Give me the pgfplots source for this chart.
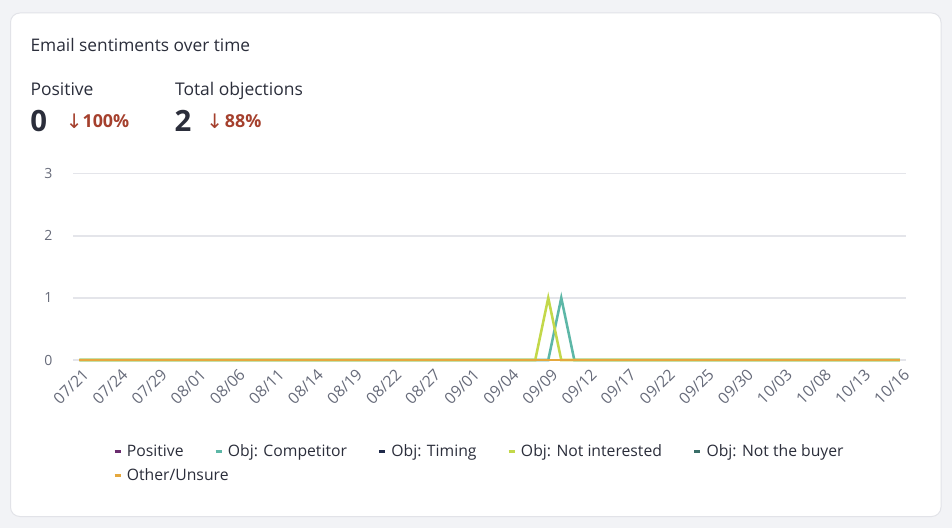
\documentclass[border=0pt]{standalone}
\usepackage{fontspec}
\setmainfont{Open Sans}
\newfontfamily\arrowfont{DejaVu Sans}
\usepackage{pgfplots}
\usepackage{pgfplotstable}
\pgfplotsset{compat=1.18}

\definecolor{pagebg}{HTML}{F2F3F6}
\definecolor{cardborder}{HTML}{E2E3E8}
\definecolor{txt}{HTML}{2B2E3B}
\definecolor{ticktxt}{HTML}{676B7A}
\definecolor{gridc}{HTML}{E4E5EA}
\definecolor{downred}{HTML}{A5402D}
\definecolor{cPos}{HTML}{6A2C6E}
\definecolor{cComp}{HTML}{5DB7A7}
\definecolor{cTim}{HTML}{1F2A4A}
\definecolor{cNI}{HTML}{C3D84A}
\definecolor{cNB}{HTML}{3A6E68}
\definecolor{cOth}{HTML}{E5A83E}

\newlength\px \setlength\px{0.75pt}

\pgfplotstableread{
x pos comp tim ni nb oth
0 0 0 0 0 0 0
1 0 0 0 0 0 0
2 0 0 0 0 0 0
3 0 0 0 0 0 0
4 0 0 0 0 0 0
5 0 0 0 0 0 0
6 0 0 0 0 0 0
7 0 0 0 0 0 0
8 0 0 0 0 0 0
9 0 0 0 0 0 0
10 0 0 0 0 0 0
11 0 0 0 0 0 0
12 0 0 0 0 0 0
13 0 0 0 0 0 0
14 0 0 0 0 0 0
15 0 0 0 0 0 0
16 0 0 0 0 0 0
17 0 0 0 0 0 0
18 0 0 0 0 0 0
19 0 0 0 0 0 0
20 0 0 0 0 0 0
21 0 0 0 0 0 0
22 0 0 0 0 0 0
23 0 0 0 0 0 0
24 0 0 0 0 0 0
25 0 0 0 0 0 0
26 0 0 0 0 0 0
27 0 0 0 0 0 0
28 0 0 0 0 0 0
29 0 0 0 0 0 0
30 0 0 0 0 0 0
31 0 0 0 0 0 0
32 0 0 0 0 0 0
33 0 0 0 0 0 0
34 0 0 0 0 0 0
35 0 0 0 0 0 0
36 0 0 0 1 0 0
37 0 1 0 0 0 0
38 0 0 0 0 0 0
39 0 0 0 0 0 0
40 0 0 0 0 0 0
41 0 0 0 0 0 0
42 0 0 0 0 0 0
43 0 0 0 0 0 0
44 0 0 0 0 0 0
45 0 0 0 0 0 0
46 0 0 0 0 0 0
47 0 0 0 0 0 0
48 0 0 0 0 0 0
49 0 0 0 0 0 0
50 0 0 0 0 0 0
51 0 0 0 0 0 0
52 0 0 0 0 0 0
53 0 0 0 0 0 0
54 0 0 0 0 0 0
55 0 0 0 0 0 0
56 0 0 0 0 0 0
57 0 0 0 0 0 0
58 0 0 0 0 0 0
59 0 0 0 0 0 0
60 0 0 0 0 0 0
61 0 0 0 0 0 0
62 0 0 0 0 0 0
63 0 0 0 0 0 0
}\sent

\begin{document}
\begin{tikzpicture}
\useasboundingbox (0,0) rectangle (714pt,-396pt);
\fill[pagebg] (0,0) rectangle (714pt,-396pt);
\begin{scope}[x=0.75pt,y=-0.75pt]
\filldraw[fill=white, draw=cardborder, line width=0.75pt, rounded corners=7pt] (10.5,13) rectangle (941,516.5);
\begin{scope}[every node/.style={anchor=base west, inner sep=0pt, text=txt}]
\node[font=\fontsize{13pt}{15pt}\selectfont] at (30.3,51) {Email sentiments over time};
\node[font=\fontsize{13.1pt}{15pt}\selectfont] at (30.3,95) {Positive};
\node[font=\fontsize{13.1pt}{15pt}\selectfont] at (174.8,95) {Total objections};
\node[font=\fontsize{22pt}{24pt}\selectfont\bfseries] at (30,131) {0};
\node[font=\arrowfont\fontsize{15pt}{17pt}\selectfont, text=downred] at (65.5,128.3) {↓};
\node[font=\fontsize{13.4pt}{15pt}\selectfont\bfseries, text=downred] at (82.3,127.3) {100\%};
\node[font=\fontsize{22pt}{24pt}\selectfont\bfseries] at (174.3,131) {2};
\node[font=\arrowfont\fontsize{15pt}{17pt}\selectfont, text=downred] at (206.1,128.3) {↓};
\node[font=\fontsize{13.4pt}{15pt}\selectfont\bfseries, text=downred] at (224.7,127.3) {88\%};
\end{scope}
\end{scope}
\begin{axis}[
  at={(54.975pt,-270pt)}, anchor=south west,
  scale only axis, width=624.3pt, height=139.725pt,
  xmin=-0.46, xmax=63.44, ymin=0, ymax=3,
  clip=false,
  axis line style={draw=none},
  major tick length=0pt,
  ytick={0,1,2,3},
  xtick={0,3,...,63},
  xticklabels={07/21,07/24,07/29,08/01,08/06,08/11,08/14,08/19,08/22,08/27,09/01,09/04,09/09,09/12,09/17,09/22,09/25,09/30,10/03,10/08,10/13,10/16},
  ymajorgrids,
  grid style={gridc, line width=1.1pt},
  /pgf/number format/assume math mode=true,
  yticklabel style={font=\fontsize{10.5pt}{12pt}\selectfont, text=ticktxt, inner sep=0pt, anchor=east, xshift=-15.4pt},
  xticklabel style={font=\fontsize{11.8pt}{13pt}\selectfont, text=ticktxt, inner sep=0pt, xshift=1.8pt, yshift=-5.5pt, rotate=45, anchor=north east},
  legend columns=5,
  legend cell align=left,
  legend style={at={(0.0478,-0.424)}, anchor=north west, draw=none, fill=none,
    inner sep=0pt, column sep=0pt, row sep=0pt,
    font=\fontsize{11.8pt}{14pt}\selectfont, text=txt,
    nodes={inner sep=0pt, text height=13.2pt, text depth=4.8pt}},
  legend image code/.code={\draw[line width=1.9pt] (0pt,0pt) -- (4.5pt,0pt);},
]
\addplot[cPos, line width=1.9pt] table[x=x, y=pos] {\sent};
\addlegendentry{\makebox[92.5\px][l]{\hspace{5\px}Positive}}
\addplot[cComp, line width=1.9pt] table[x=x, y=comp] {\sent};
\addlegendentry{\makebox[155\px][l]{\hspace{5\px}Obj: Competitor}}
\addplot[cTim, line width=1.9pt] table[x=x, y=tim] {\sent};
\addlegendentry{\makebox[121\px][l]{\hspace{5\px}Obj: Timing}}
\addplot[cNI, line width=1.9pt] table[x=x, y=ni] {\sent};
\addlegendentry{\makebox[177\px][l]{\hspace{5\px}Obj: Not interested}}
\addplot[cNB, line width=1.9pt] table[x=x, y=nb] {\sent};
\addlegendentry{\hspace{5\px}Obj: Not the buyer}
\addplot[cOth, line width=2.1pt] table[x=x, y=oth] {\sent};
\addlegendentry{\makebox[92.5\px][l]{\hspace{5\px}Other/Unsure}}
\end{axis}
\end{tikzpicture}
\end{document}
